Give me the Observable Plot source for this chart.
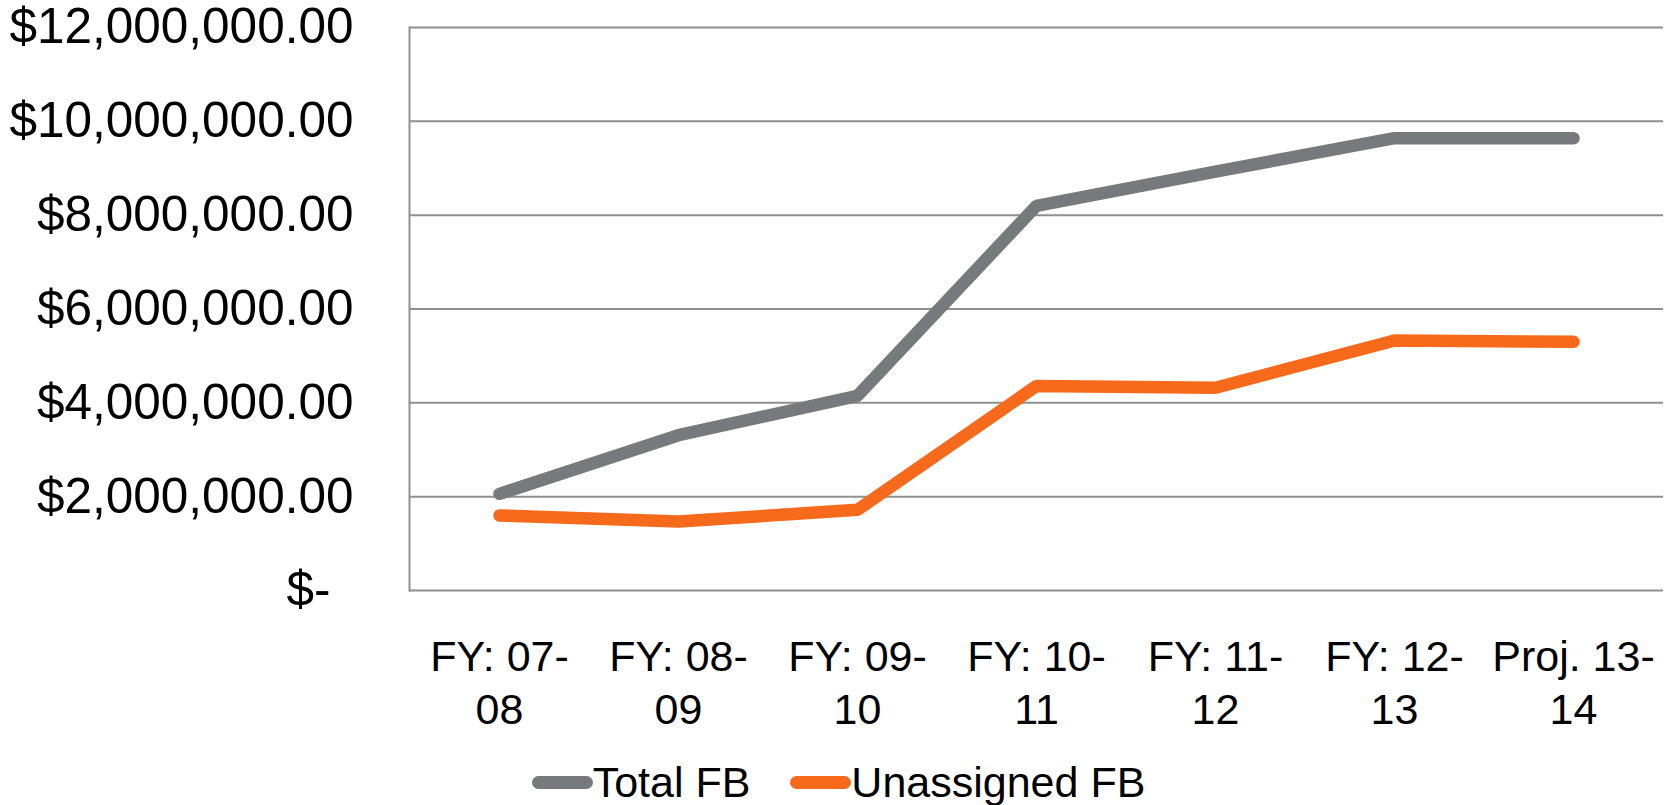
<!DOCTYPE html>
<html>
<head>
<meta charset="utf-8">
<script src="https://cdn.jsdelivr.net/npm/d3@7"></script>
<script src="https://cdn.jsdelivr.net/npm/@observablehq/plot@0.6"></script>
<style>
  body { margin: 0; background: #fff; font-family: "Liberation Sans", Arial, sans-serif; }
  #legend { display: flex; justify-content: center; align-items: center; gap: 40px;
            height: 60px; margin-top: 12px; font-size: 43px; color: #000; }
  #legend .item { display: flex; align-items: center; }
  #legend .swatch { width: 61px; height: 13px; border-radius: 7px; }
</style>
</head>
<body>
<div id="chart"></div>
<div id="legend"></div>
<script>
// Fund balance by fiscal year (dollars)
const fiscalYears = ["FY: 07-08", "FY: 08-09", "FY: 09-10", "FY: 10-11", "FY: 11-12", "FY: 12-13", "Proj. 13-14"];
const yearLabels  = ["FY: 07-\n08", "FY: 08-\n09", "FY: 09-\n10", "FY: 10-\n11", "FY: 11-\n12", "FY: 12-\n13", "Proj. 13-\n14"];
const totalFB      = [2060000, 3310000, 4150000, 8200000, 8930000, 9640000, 9640000];
const unassignedFB = [1600000, 1470000, 1720000, 4360000, 4320000, 5330000, 5300000];
const yTicks = [0, 2000000, 4000000, 6000000, 8000000, 10000000, 12000000];
const seriesNames  = ["Total FB", "Unassigned FB"];
const seriesColors = ["#78797c", "#f7691b"];

const rows = fiscalYears.flatMap((fy, i) => [
  {fy, series: seriesNames[0], value: totalFB[i]},
  {fy, series: seriesNames[1], value: unassignedFB[i]}
]);

const money = d3.format(",.2f");

const chart = Plot.plot({
  width: 1677,
  height: 740,
  marginTop: 27,
  marginBottom: 150,
  marginLeft: 409,
  marginRight: 14,
  style: {fontFamily: "Liberation Sans, Arial, sans-serif", background: "#fff", color: "#000"},
  x: {type: "point", domain: fiscalYears, padding: 0.5, label: null},
  y: {domain: [0, 12000000], label: null},
  color: {domain: seriesNames, range: seriesColors},
  marks: [
    Plot.ruleY(yTicks, {stroke: "#8f8f8f", strokeWidth: 2}),
    Plot.frame({anchor: "left", stroke: "#8f8f8f", strokeWidth: 2}),
    Plot.line(rows, {
      x: "fy", y: "value", z: "series", stroke: "series",
      strokeWidth: 12.5, strokeLinecap: "round", strokeLinejoin: "miter"
    }),
    Plot.axisY(yTicks.filter(d => d > 0), {
      tickSize: 0, tickPadding: 56, fontSize: 49.5, label: null,
      tickFormat: d => "$" + money(d)
    }),
    Plot.axisY([0], {
      tickSize: 0, tickPadding: 79, fontSize: 49.5, label: null,
      tickFormat: () => "$-"
    }),
    Plot.axisX({
      tickSize: 0, tickPadding: 42, fontSize: 43, lineHeight: 1.25, label: null,
      tickFormat: d => yearLabels[fiscalYears.indexOf(d)]
    })
  ]
});
document.getElementById("chart").append(chart);

// Legend below the chart
const legend = d3.select("#legend");
seriesNames.forEach((name, i) => {
  const item = legend.append("div").attr("class", "item");
  item.append("div").attr("class", "swatch").style("background", seriesColors[i]);
  item.append("span").text(name);
});
</script>
</body>
</html>
